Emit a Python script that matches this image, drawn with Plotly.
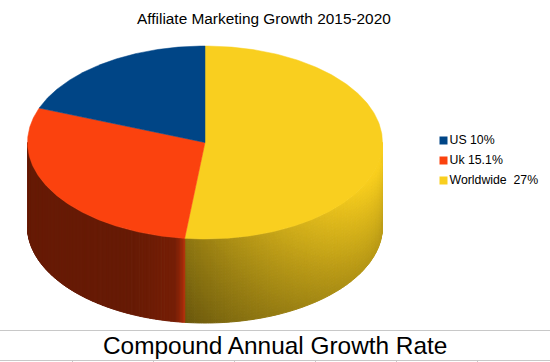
import numpy as np
import plotly.graph_objects as go

# Data
categories = ["US 10%", "Uk 15.1%", "Worldwide  27%"]
values = [10, 15.1, 27]
colors = ["#004586", "#fb420e", "#f9cf1f"]

# Projection of the disc onto the page
CX, CY, RX, RY, DEPTH = 205, 142.5, 177.5, 96.5, 84


def px(theta):
    return CX + RX * np.sin(np.radians(theta))


def py(theta, drop=0.0):
    return CY - RY * np.cos(np.radians(theta)) + drop


def rgb(color, factor):
    r, g, b = int(color[1:3], 16), int(color[3:5], 16), int(color[5:7], 16)
    return f"rgb({r * factor:.0f},{g * factor:.0f},{b * factor:.0f})"


# Slices run clockwise from 12 o'clock: last category first
order = [2, 1, 0]
total = sum(values)
edges = {}
start = 0.0
for i in order:
    edges[i] = (start, start + values[i] / total * 360)
    start = edges[i][1]


def shade_worldwide(x, v):
    u = max(0.0, (x - px(edges[2][1])) / (CX + RX - px(edges[2][1])))
    return min(1.0, 0.42 + 0.33 * u ** 0.8 + (1 - v) * (0.14 + 0.14 * u))


def shade_uk(x, v):
    d = px(edges[1][0]) - x
    if d < 10:
        return 0.78 - 0.31 * (d / 10) ** 0.6
    if d < 55:
        return 0.47 - 0.06 * (d - 10) / 45
    return 0.41


bins = {}


def add_side(i, t0, t1, step, layers, shade):
    ts = np.arange(t0, t1 + step * 0.5, step)
    ts[-1] = t1
    for a, b in zip(ts[:-1], ts[1:]):
        for k in range(layers):
            d0, d1 = DEPTH * k / layers, DEPTH * (k + 1) / layers
            f = round(shade((px(a) + px(b)) / 2, (k + 0.5) / layers) * 200) / 200
            xs, ys = bins.setdefault((i, f), ([], []))
            xs += [px(a), px(b), px(b), px(a), px(a), None]
            ys += [py(a, d0), py(b, d0), py(b, d1), py(a, d1), py(a, d0), None]


add_side(2, 90.0, edges[2][1], 0.75, 28, shade_worldwide)
add_side(1, edges[1][0], 270.0, 0.5, 1, shade_uk)

fig = go.Figure()
for (i, f), (xs, ys) in bins.items():
    c = rgb(colors[i], f)
    fig.add_trace(go.Scatter(x=xs, y=ys, mode="lines", fill="toself", fillcolor=c,
                             line=dict(color=c, width=1), showlegend=False, hoverinfo="skip"))

# Top face
for i in order:
    ts = np.linspace(edges[i][0], edges[i][1], 240)
    xs = [CX] + list(px(ts)) + [CX]
    ys = [CY] + list(py(ts)) + [CY]
    fig.add_trace(go.Scatter(x=xs, y=ys, mode="lines", fill="toself", fillcolor=colors[i],
                             line=dict(color=colors[i], width=0.5), showlegend=False,
                             hoverinfo="text", text=categories[i]))

# Legend key
legend_y = [140.5, 160.5, 180.5]
fig.add_trace(go.Scatter(
    x=[443.5] * 3, y=legend_y, mode="markers",
    marker=dict(symbol="square", size=8, color=colors),
    showlegend=False, hoverinfo="skip"))
fig.add_trace(go.Scatter(
    x=[449.5] * 3, y=legend_y, mode="text",
    text=categories, textposition="middle right",
    textfont=dict(family="Liberation Sans", size=12.3, color="#000000"),
    showlegend=False, hoverinfo="skip"))

# Spreadsheet rules around the caption
shapes = [dict(type="line", x0=0, x1=550, y0=y, y1=y, line=dict(color="#c8c8c8", width=1))
          for y in (330.5, 360.5)]
shapes += [dict(type="line", x0=x, x1=x, y0=360, y1=362, line=dict(color="#c8c8c8", width=1))
           for x in (72.5, 153.5, 234.5, 315.5, 396.5, 477.5)]

fig.update_layout(
    width=550, height=362, margin=dict(l=0, r=0, t=0, b=0),
    paper_bgcolor="white", plot_bgcolor="white", showlegend=False,
    xaxis=dict(range=[0, 550], visible=False, fixedrange=True),
    yaxis=dict(range=[362, 0], visible=False, fixedrange=True),
    shapes=shapes,
    annotations=[
        dict(text="Affiliate Marketing Growth 2015-2020", x=263.5, y=18, xref="x", yref="y",
             showarrow=False, font=dict(family="Liberation Sans", size=15.4, color="#000000")),
        dict(text="Compound Annual Growth Rate", x=274.5, y=345, xref="x", yref="y",
             showarrow=False, font=dict(family="Liberation Sans", size=24.4, color="#000000")),
    ],
)
fig.write_html("out.html", post_script="document.body.style.margin='0';document.body.style.overflow='hidden';",
               config=dict(displayModeBar=False))
